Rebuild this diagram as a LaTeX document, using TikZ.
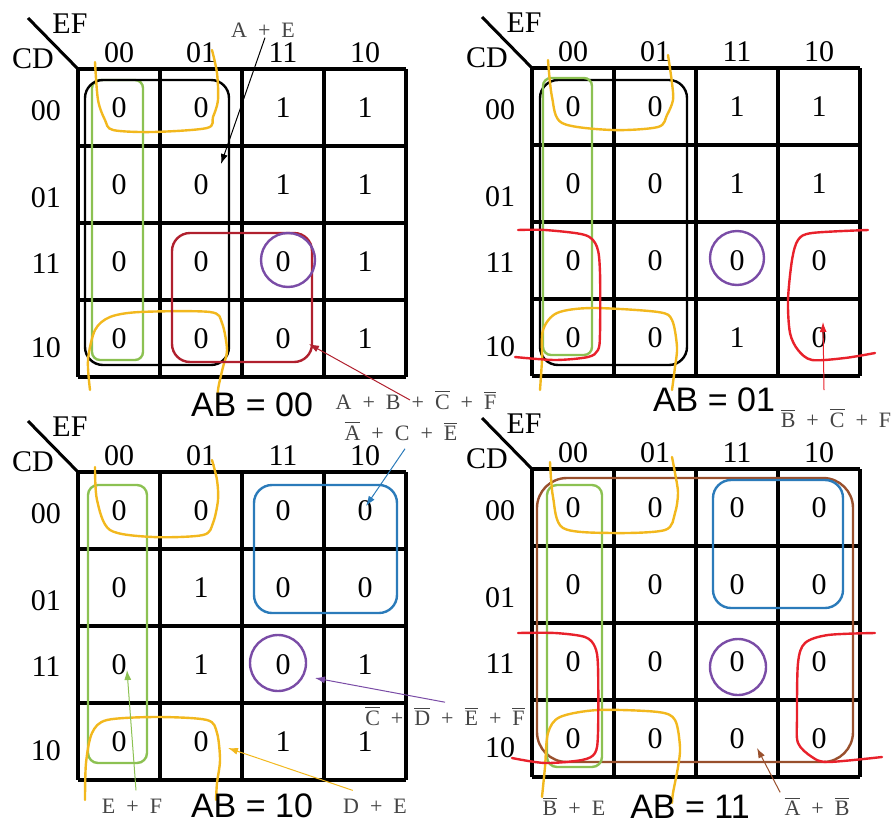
\documentclass[tikz,border=0pt]{standalone}
\usepackage{fontspec}
\setmainfont{Liberation Serif}
\newfontfamily\arialfont{Liberation Sans}
\usetikzlibrary{arrows.meta,positioning}
\definecolor{Gold}{HTML}{F2B81E}
\definecolor{Leaf}{HTML}{8CC152}
\definecolor{Wine}{HTML}{B0202E}
\definecolor{Scarlet}{HTML}{E8212B}
\definecolor{Violet}{HTML}{7A4CA6}
\definecolor{Sky}{HTML}{2B7BBA}
\definecolor{Rust}{HTML}{99502D}
\definecolor{Muted}{HTML}{454545}
\newcommand{\pl}{\hspace{0.5em}+\hspace{0.5em}}
\newcommand{\nb}[1]{$\overline{\mbox{#1}}$}
\tikzset{
  kgrid/.style={line width=1.6pt,draw=black},
  hdr/.style={font=\fontsize{15}{18}\selectfont,inner sep=0pt},
  cell/.style={font=\fontsize{15}{18}\selectfont,inner sep=0pt},
  abtag/.style={font=\arialfont\fontsize{17}{19}\selectfont,inner sep=0pt},
  expr/.style={font=\fontsize{11}{13}\selectfont,text=Muted,inner sep=0pt},
  grp/.style={line width=1.2pt},
  hand/.style={line width=1.2pt,line cap=round},
  pointer/.style={-{Latex[length=5pt,width=3.5pt]},line width=0.5pt}
}
\newcommand{\kmap}[4]{%
  \begin{scope}[shift={(#2,#3)}]
    \foreach \k in {0,...,4} {\draw[kgrid] (\k*82,0) -- (\k*82,308); \draw[kgrid] (0,\k*77) -- (328,\k*77);}
    \draw[line width=1.5pt] (-50,-51) -- (0,0);
    \node[hdr] (#1-ef) at (-8,-45) {EF};
    \node[hdr] (#1-cd) at (-45,-10) {CD};
    \foreach \lbl [count=\c from 0] in {00,01,11,10} \node[hdr] (#1-col\c) at (41+\c*82,-16) {\lbl};
    \foreach \lbl/\dy [count=\r from 0] in {00/3,01/13,11/2,10/9} \node[hdr] (#1-row\r) at (-32,38.5+\r*77+\dy) {\lbl};
    \foreach \vals [count=\r from 0] in {#4} {\foreach \v [count=\c from 0] in \vals \node[cell] (#1-\r\c) at (41+\c*82,38.5+\r*77) {\v};}
  \end{scope}}

\begin{document}
\begin{tikzpicture}[x=0.5pt,y=-0.5pt]
\useasboundingbox (0,0) rectangle (894,825);
\kmap{m1}{78}{69}{{0,0,1,1},{0,0,1,1},{0,0,0,1},{0,0,0,1}}
\kmap{m2}{532}{68}{{0,0,1,1},{0,0,1,1},{0,0,0,0},{0,0,1,0}}
\kmap{m3}{78}{472}{{0,0,0,0},{0,1,0,0},{0,1,0,1},{0,0,1,1}}
\kmap{m4}{532}{469}{{0,0,0,0},{0,0,0,0},{0,0,0,0},{0,0,0,0}}

\draw[grp,Leaf,rounded corners=4pt] (92,80) rectangle (143,360);
\draw[grp,black,rounded corners=9pt] (85,80) rectangle (229,365);
\draw[hand,Gold] plot[smooth,tension=0.5] coordinates {(95,62) (98,100) (105,120) (113,130) (153,132) (207,128) (213,117) (218,100) (217,73) (212,50)};
\draw[hand,Gold] plot[smooth,tension=0.5] coordinates {(90,390) (88,360) (95,330) (110,317) (140,312) (210,312) (222,323) (227,350) (223,367) (218,390) (218,410)};
\draw[grp,Wine,rounded corners=9pt] (172,233) rectangle (312,362);
\draw[grp,Violet] (288,260) circle[radius=13.5pt];

\draw[grp,black,rounded corners=9pt] (540,80) rectangle (687,365);
\draw[grp,Leaf,rounded corners=4pt] (543,78) rectangle (592,355);
\draw[hand,Gold] plot[smooth,tension=0.5] coordinates {(548,60) (552,97) (562,123) (612,130) (658,127) (667,115) (673,100) (672,83) (668,55)};
\draw[hand,Gold] plot[smooth,tension=0.5] coordinates {(540,390) (542,360) (543,330) (557,313) (592,308) (658,312) (672,320) (677,347) (675,367) (672,390)};
\draw[hand,Scarlet] plot[smooth,tension=0.5] coordinates {(518,230) (545,230) (585,235) (597,247) (600,273) (600,333) (598,350) (588,357) (555,360) (515,357)};
\draw[hand,Scarlet] plot[smooth,tension=0.5] coordinates {(868,230) (812,233) (798,240) (792,260) (788,300) (790,333) (798,350) (812,360) (845,358) (875,353)};
\draw[grp,Violet] (737,258) circle[radius=13.5pt];

\draw[grp,Leaf,rounded corners=5pt] (88,485) rectangle (147,763);
\draw[hand,Gold] plot[smooth,tension=0.5] coordinates {(95,467) (97,500) (110,530) (153,537) (203,535) (213,523) (218,500) (217,480) (212,460)};
\draw[hand,Gold] plot[smooth,tension=0.5] coordinates {(85,800) (86,763) (92,733) (107,720) (157,717) (207,720) (217,733) (220,760) (217,783) (216,800)};
\draw[grp,Sky,rounded corners=9pt] (254,485) rectangle (397,613);
\draw[grp,Violet] (278,663) circle[radius=14pt];

\draw[grp,Rust,rounded corners=15pt] (537,478) rectangle (853,762);
\draw[grp,Leaf,rounded corners=5pt] (547,485) rectangle (602,767);
\draw[grp,Sky,rounded corners=9pt] (713,480) rectangle (843,608);
\draw[hand,Gold] plot[smooth,tension=0.5] coordinates {(550,462) (553,497) (563,528) (612,533) (665,530) (675,513) (678,493) (675,473) (672,457)};
\draw[hand,Gold] plot[smooth,tension=0.5] coordinates {(542,797) (545,767) (548,733) (560,717) (598,710) (658,712) (675,720) (680,747) (678,767) (673,793) (672,803)};
\draw[hand,Scarlet] plot[smooth,tension=0.5] coordinates {(518,633) (555,633) (585,637) (595,647) (598,667) (598,733) (595,753) (582,760) (545,763) (512,758)};
\draw[hand,Scarlet] plot[smooth,tension=0.5] coordinates {(875,633) (828,635) (805,643) (798,663) (797,717) (798,743) (812,757) (828,762) (882,757)};
\draw[grp,Violet] (738,667) circle[radius=14pt];

\node[abtag] (ab00) at (252,405) {AB = 00};
\node[abtag] (ab01) at (714,400) {AB = 01};
\node[abtag] (ab10) at (252,806) {AB = 10};
\node[abtag] (ab11) at (690,807) {AB = 11};

\node[expr] (ae) at (263,30) {A\pl E};
\node[expr] (abcf) at (416,400) {A\pl B\pl \nb{C}\pl \nb{F}};
\node[expr] (ace) at (401,431) {\nb{A}\pl C\pl \nb{E}};
\node[expr] (bcf) at (836,418) {\nb{B}\pl \nb{C}\pl F};
\node[expr] (cdef) at (445,716) {\nb{C}\pl \nb{D}\pl \nb{E}\pl \nb{F}};
\node[expr] (efs) at (132,806) {E\pl F};
\node[expr] (des) at (375,806) {D\pl E};
\node[expr] (bes) at (574,806) {\nb{B}\pl E};
\node[expr] (abs) at (817,806) {\nb{A}\pl \nb{B}};

\coordinate (ae-tip) at (221,164);
\coordinate (abcf-tip) at (309,344);
\coordinate (ace-tip) at (366,506);
\coordinate (bcf-tip) at (823,322);
\coordinate (cdef-tip) at (315,678);
\coordinate (efs-tip) at (127,670);
\coordinate (des-tip) at (228,748);
\coordinate (abs-tip) at (757,748);
\draw[pointer,black] ([xshift=1pt]ae.south) -- (ae-tip);
\draw[pointer,Wine] ([xshift=-3pt]abcf.center) -- (abcf-tip);
\draw[pointer,Sky] ([xshift=2pt,yshift=-4pt]ace.south) -- (ace-tip);
\draw[pointer,Scarlet] ([xshift=-6pt,yshift=9pt]bcf.north) -- (bcf-tip);
\draw[pointer,Violet] ([yshift=2pt]cdef.north) -- (cdef-tip);
\draw[pointer,Leaf] ([xshift=2pt,yshift=4pt]efs.north) -- (efs-tip);
\draw[pointer,Gold] ([xshift=5pt,yshift=4pt]des.north west) -- (des-tip);
\draw[pointer,Rust] ([xshift=-2pt,yshift=2pt]abs.north west) -- (abs-tip);
\end{tikzpicture}
\end{document}
